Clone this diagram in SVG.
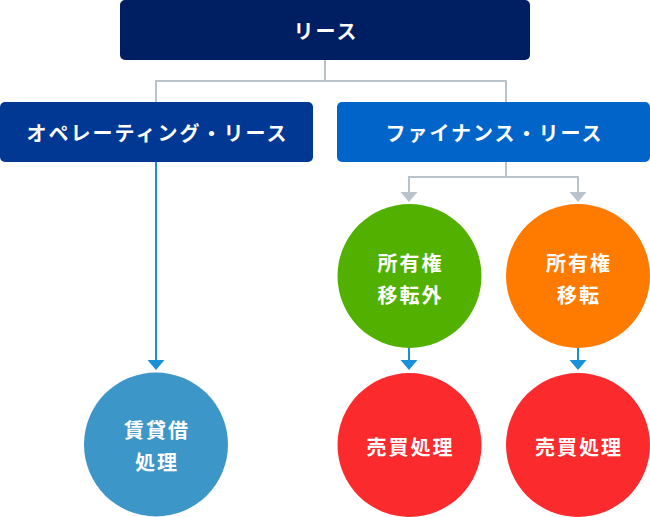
<svg xmlns="http://www.w3.org/2000/svg" width="650" height="517" viewBox="0 0 650 517">
<style>
text{font-family:"Noto Sans CJK JP","Noto Sans",sans-serif;font-weight:bold;fill:#fff;text-anchor:middle;dominant-baseline:central}
.box{font-size:20px;letter-spacing:2px}
.circ{font-size:20px;letter-spacing:2px}
.gray{stroke:#b9c3cc;stroke-width:2;fill:none}
.blue{stroke:#1a90d8;stroke-width:2;fill:none}
</style>
<g id="connectors">
<path class="gray" d="M325,60 V81 M156,102 V81 H506 V102"/>
<path class="gray" d="M506,162 V177 M409,192 V177 H578 V192"/>
<path d="M400.5,192 H417.5 L409,202 Z" fill="#b9c3cc"/>
<path d="M569.5,192 H586.5 L578,202 Z" fill="#b9c3cc"/>
<path class="blue" d="M156,162 V360"/>
<path d="M147.5,360 H164.5 L156,370 Z" fill="#1a90d8"/>
<path class="blue" d="M409,348 V360"/>
<path d="M400.5,360 H417.5 L409,370 Z" fill="#1a90d8"/>
<path class="blue" d="M578,348 V360"/>
<path d="M569.5,360 H586.5 L578,370 Z" fill="#1a90d8"/>
</g>
<g id="lease">
<rect x="120" y="0" width="410" height="60" rx="5" fill="#001f63"/>
<text class="box" x="326" y="30">リース</text>
</g>
<g id="operating">
<rect x="0" y="102" width="313" height="60" rx="5" fill="#003893"/>
<text class="box" x="157.5" y="132">オペレーティング・リース</text>
</g>
<g id="finance">
<rect x="337" y="102" width="313" height="60" rx="5" fill="#0064c8"/>
<text class="box" x="494.5" y="132">ファイナンス・リース</text>
</g>
<g id="rental">
<circle cx="156" cy="444.5" r="72" fill="#3d96c8"/>
<text class="circ" x="157" y="429">賃貸借</text>
<text class="circ" x="157" y="461">処理</text>
</g>
<g id="non-transfer">
<circle cx="409.5" cy="276" r="72" fill="#52b100"/>
<text class="circ" x="410.5" y="262">所有権</text>
<text class="circ" x="410.5" y="294">移転外</text>
</g>
<g id="transfer">
<circle cx="578" cy="276" r="72" fill="#ff7b00"/>
<text class="circ" x="579" y="262">所有権</text>
<text class="circ" x="579" y="294">移転</text>
</g>
<g id="sale1">
<circle cx="409.5" cy="445" r="72" fill="#fa2a2d"/>
<text class="circ" x="410.5" y="446">売買処理</text>
</g>
<g id="sale2">
<circle cx="578" cy="445" r="72" fill="#fa2a2d"/>
<text class="circ" x="579" y="446">売買処理</text>
</g>
</svg>
